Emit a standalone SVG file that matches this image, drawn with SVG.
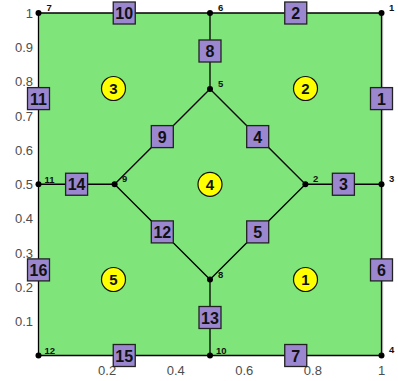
<svg xmlns="http://www.w3.org/2000/svg" width="398" height="381" viewBox="0 0 398 381">
<style>
.tick{font-family:"Liberation Sans",Arial,sans-serif;font-size:13px;fill:#4d4d4d}
.ty{text-anchor:end}
.tx{text-anchor:middle}
.edge{stroke:#000;stroke-width:1.3;fill:none}
.dot{fill:#000}
.vl{font-family:"Liberation Sans",Arial,sans-serif;font-size:9.5px;font-weight:bold;fill:#111}
.box{fill:#9a87cf;stroke:#222;stroke-width:1.3}
.bl{font-family:"Liberation Sans",Arial,sans-serif;font-size:16px;font-weight:bold;fill:#111;text-anchor:middle}
.fl{font-family:"Liberation Sans",Arial,sans-serif;font-size:15px;font-weight:bold;fill:#111;text-anchor:middle}
.face{fill:#ffff00;stroke:#111;stroke-width:1.2}
</style>
<rect x="0" y="0" width="398" height="381" fill="#fff"/>
<g id="domain">
<rect x="38.5" y="13" width="343" height="342.5" fill="#7fe57a"/>
<line x1="382.7" y1="13" x2="382.7" y2="356" stroke="#b5b5b5" stroke-width="1"/>
</g>
<g id="axes">
<text class="tick ty" x="33" y="17.7">1</text>
<text class="tick ty" x="33" y="52">0.9</text>
<text class="tick ty" x="33" y="86.2">0.8</text>
<text class="tick ty" x="33" y="120.5">0.7</text>
<text class="tick ty" x="33" y="154.7">0.6</text>
<text class="tick ty" x="33" y="189">0.5</text>
<text class="tick ty" x="33" y="223.2">0.4</text>
<text class="tick ty" x="33" y="257.5">0.3</text>
<text class="tick ty" x="33" y="291.7">0.2</text>
<text class="tick ty" x="33" y="326">0.1</text>
<text class="tick tx" x="107.1" y="375">0.2</text>
<text class="tick tx" x="175.7" y="375">0.4</text>
<text class="tick tx" x="244.3" y="375">0.6</text>
<text class="tick tx" x="312.9" y="375">0.8</text>
<text class="tick tx" x="381.5" y="375">1</text>
</g>
<g id="connectors">
<line class="edge" x1="381.5" y1="13" x2="381.5" y2="184.25"/>
<line class="edge" x1="381.5" y1="13" x2="210" y2="13"/>
<line class="edge" x1="305.4" y1="184.25" x2="381.5" y2="184.25"/>
<line class="edge" x1="210" y1="89" x2="305.4" y2="184.25"/>
<line class="edge" x1="305.4" y1="184.25" x2="210" y2="279.5"/>
<line class="edge" x1="381.5" y1="184.25" x2="381.5" y2="355.5"/>
<line class="edge" x1="381.5" y1="355.5" x2="210" y2="355.5"/>
<line class="edge" x1="210" y1="13" x2="210" y2="89"/>
<line class="edge" x1="210" y1="89" x2="114.6" y2="184.25"/>
<line class="edge" x1="210" y1="13" x2="38.5" y2="13"/>
<line class="edge" x1="38.5" y1="13" x2="38.5" y2="184.25"/>
<line class="edge" x1="114.6" y1="184.25" x2="210" y2="279.5"/>
<line class="edge" x1="210" y1="279.5" x2="210" y2="355.5"/>
<line class="edge" x1="38.5" y1="184.25" x2="114.6" y2="184.25"/>
<line class="edge" x1="210" y1="355.5" x2="38.5" y2="355.5"/>
<line class="edge" x1="38.5" y1="184.25" x2="38.5" y2="355.5"/>
</g>
<g id="node1"><circle class="dot" cx="381.5" cy="13" r="3"/><text class="vl" x="389" y="11">1</text></g>
<g id="node2"><circle class="dot" cx="305.4" cy="184.25" r="3"/><text class="vl" x="313" y="182">2</text></g>
<g id="node3"><circle class="dot" cx="381.5" cy="184.25" r="3"/><text class="vl" x="389" y="182">3</text></g>
<g id="node4"><circle class="dot" cx="381.5" cy="355.5" r="3"/><text class="vl" x="389" y="353">4</text></g>
<g id="node5"><circle class="dot" cx="210" cy="89" r="3"/><text class="vl" x="218" y="87">5</text></g>
<g id="node6"><circle class="dot" cx="210" cy="13" r="3"/><text class="vl" x="218" y="11">6</text></g>
<g id="node7"><circle class="dot" cx="38.5" cy="13" r="3"/><text class="vl" x="46.5" y="11">7</text></g>
<g id="node8"><circle class="dot" cx="210" cy="279.5" r="3"/><text class="vl" x="218" y="277.5">8</text></g>
<g id="node9"><circle class="dot" cx="114.6" cy="184.25" r="3"/><text class="vl" x="122" y="182">9</text></g>
<g id="node10"><circle class="dot" cx="210" cy="355.5" r="3"/><text class="vl" x="216" y="353.5">10</text></g>
<g id="node11"><circle class="dot" cx="38.5" cy="184.25" r="3"/><text class="vl" x="44.5" y="182.5">11</text></g>
<g id="node12"><circle class="dot" cx="38.5" cy="355.5" r="3"/><text class="vl" x="44.5" y="353.5">12</text></g>
<g id="edge1"><rect class="box" x="370.5" y="87.6" width="22" height="22"/><text class="bl" x="381.5" y="104.8">1</text></g>
<g id="edge2"><rect class="box" x="284.75" y="2" width="22" height="22"/><text class="bl" x="295.75" y="19.2">2</text></g>
<g id="edge3"><rect class="box" x="332.4" y="173.25" width="22" height="22"/><text class="bl" x="343.4" y="190.4">3</text></g>
<g id="edge4"><rect class="box" x="246.7" y="125.6" width="22" height="22"/><text class="bl" x="257.7" y="142.8">4</text></g>
<g id="edge5"><rect class="box" x="246.7" y="220.9" width="22" height="22"/><text class="bl" x="257.7" y="238.1">5</text></g>
<g id="edge6"><rect class="box" x="370.5" y="258.9" width="22" height="22"/><text class="bl" x="381.5" y="276.1">6</text></g>
<g id="edge7"><rect class="box" x="284.75" y="344.5" width="22" height="22"/><text class="bl" x="295.75" y="361.7">7</text></g>
<g id="edge8"><rect class="box" x="199" y="40" width="22" height="22"/><text class="bl" x="210" y="57.2">8</text></g>
<g id="edge9"><rect class="box" x="151.3" y="125.6" width="22" height="22"/><text class="bl" x="162.3" y="142.8">9</text></g>
<g id="edge10"><rect class="box" x="113.25" y="2" width="22" height="22"/><text class="bl" x="124.25" y="19.2">10</text></g>
<g id="edge11"><rect class="box" x="27.5" y="87.6" width="22" height="22"/><text class="bl" x="38.5" y="104.8">11</text></g>
<g id="edge12"><rect class="box" x="151.3" y="220.9" width="22" height="22"/><text class="bl" x="162.3" y="238.1">12</text></g>
<g id="edge13"><rect class="box" x="199" y="306.5" width="22" height="22"/><text class="bl" x="210" y="323.7">13</text></g>
<g id="edge14"><rect class="box" x="65.6" y="173.25" width="22" height="22"/><text class="bl" x="76.6" y="190.4">14</text></g>
<g id="edge15"><rect class="box" x="113.25" y="344.5" width="22" height="22"/><text class="bl" x="124.25" y="361.7">15</text></g>
<g id="edge16"><rect class="box" x="27.5" y="258.9" width="22" height="22"/><text class="bl" x="38.5" y="276.1">16</text></g>
<g id="face1"><circle class="face" cx="305.5" cy="279.5" r="12"/><text class="fl" x="305.5" y="284.8">1</text></g>
<g id="face2"><circle class="face" cx="305.5" cy="88.5" r="12"/><text class="fl" x="305.5" y="93.8">2</text></g>
<g id="face3"><circle class="face" cx="113.5" cy="88.5" r="12"/><text class="fl" x="113.5" y="93.8">3</text></g>
<g id="face4"><circle class="face" cx="210" cy="184.3" r="12"/><text class="fl" x="210" y="189.6">4</text></g>
<g id="face5"><circle class="face" cx="113.5" cy="279.5" r="12"/><text class="fl" x="113.5" y="284.8">5</text></g>
</svg>
